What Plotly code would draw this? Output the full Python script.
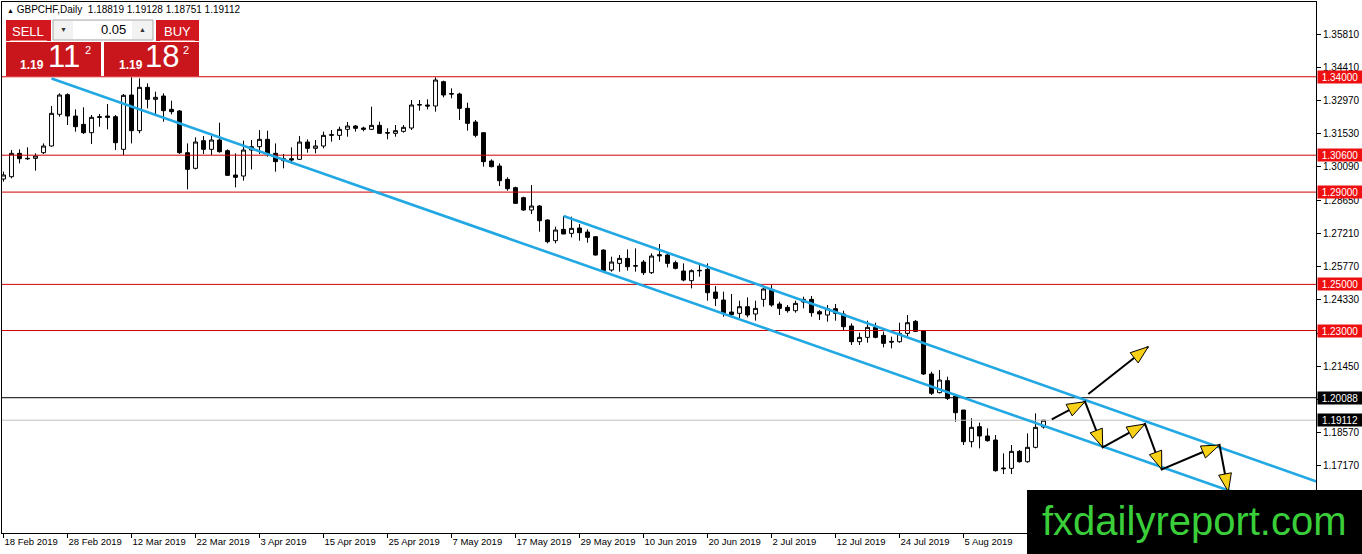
import plotly.graph_objects as go

# ---------------- data ----------------
date_labels = ["18 Feb 2019", "28 Feb 2019", "12 Mar 2019", "22 Mar 2019", "3 Apr 2019",
               "15 Apr 2019", "25 Apr 2019", "7 May 2019", "17 May 2019", "29 May 2019",
               "10 Jun 2019", "20 Jun 2019", "2 Jul 2019", "12 Jul 2019", "24 Jul 2019",
               "5 Aug 2019"]
date_bars = [0, 8, 16, 24, 32, 40, 48, 56, 64, 72, 80, 88, 96, 104, 112, 120]

opens = [1.29568, 1.29668, 1.30680, 1.30463, 1.30463, 1.30709, 1.30998, 1.32371, 1.33223, 1.32298,
         1.31937, 1.31576, 1.32269, 1.32298, 1.32269, 1.30853, 1.33209, 1.31663, 1.33541, 1.33021,
         1.33165, 1.32587, 1.32515, 1.30709, 1.30030, 1.31229, 1.30853, 1.31258, 1.30796, 1.29741,
         1.29697, 1.30824, 1.30969, 1.31287, 1.30680, 1.30362, 1.30449, 1.30420, 1.31171, 1.30897,
         1.30998, 1.31460, 1.31460, 1.31720, 1.31865, 1.31778, 1.31720, 1.31894, 1.31576, 1.31547,
         1.31634, 1.31778, 1.32775, 1.32775, 1.32732, 1.33787, 1.33267, 1.33252, 1.32631, 1.32038,
         1.31576, 1.30348, 1.30131, 1.29553, 1.29192, 1.28758, 1.28223, 1.28397, 1.27790, 1.26894,
         1.27385, 1.27212, 1.27443, 1.27270, 1.27067, 1.26489, 1.25622, 1.25911, 1.26128, 1.25810,
         1.25969, 1.25507, 1.26287, 1.26273, 1.25940, 1.25579, 1.25161, 1.25609, 1.25652, 1.24669,
         1.24322, 1.23802, 1.23744, 1.24033, 1.23716, 1.24351, 1.24785, 1.24149, 1.24005, 1.23860,
         1.24236, 1.24351, 1.23817, 1.23672, 1.23947, 1.23716, 1.23195, 1.22516, 1.22704, 1.23138,
         1.22791, 1.22531, 1.22516, 1.22877, 1.23398, 1.22994, 1.21116, 1.20306, 1.20827, 1.20162,
         1.19555, 1.18182, 1.18832, 1.18428, 1.18254, 1.17041, 1.17027, 1.17763, 1.17315, 1.17937,
         1.18819]
highs = [1.29886, 1.30824, 1.30853, 1.30940, 1.30680, 1.31113, 1.32732, 1.33281, 1.33281, 1.32587,
         1.32674, 1.32342, 1.32385, 1.32819, 1.32342, 1.33252, 1.33975, 1.33931, 1.33714, 1.33353,
         1.33281, 1.32963, 1.32558, 1.31113, 1.31374, 1.31431, 1.31431, 1.32009, 1.30853, 1.30680,
         1.31229, 1.31258, 1.31691, 1.31663, 1.31113, 1.30651, 1.30940, 1.31431, 1.31287, 1.31258,
         1.31619, 1.31691, 1.31836, 1.32038, 1.31908, 1.31836, 1.32703, 1.32053, 1.31764, 1.31908,
         1.31908, 1.32992, 1.32992, 1.33021, 1.33975, 1.33830, 1.33498, 1.33310, 1.32876, 1.32125,
         1.31576, 1.30420, 1.30246, 1.29640, 1.29235, 1.28801, 1.29307, 1.28440, 1.27819, 1.27501,
         1.27963, 1.27934, 1.27617, 1.27385, 1.27096, 1.26518, 1.26200, 1.26273, 1.26518, 1.26562,
         1.26056, 1.26345, 1.26750, 1.26345, 1.26027, 1.25911, 1.25652, 1.25912, 1.25912, 1.24929,
         1.24684, 1.24583, 1.24294, 1.24438, 1.24294, 1.24929, 1.24973, 1.24250, 1.24106, 1.24294,
         1.24467, 1.24496, 1.23889, 1.24106, 1.24149, 1.23860, 1.23311, 1.22906, 1.23427, 1.23340,
         1.22950, 1.22733, 1.23340, 1.23672, 1.23455, 1.23023, 1.21217, 1.21289, 1.21000, 1.20205,
         1.19555, 1.19194, 1.19006, 1.18760, 1.18471, 1.17676, 1.18038, 1.17821, 1.18543, 1.19410,
         1.19128]
lows = [1.29452, 1.29596, 1.30246, 1.30391, 1.29929, 1.30651, 1.30969, 1.32269, 1.31908, 1.31619,
        1.31518, 1.31085, 1.31836, 1.31720, 1.30824, 1.30608, 1.31113, 1.31547, 1.32631, 1.32298,
        1.32053, 1.32371, 1.30651, 1.29119, 1.29986, 1.30651, 1.30608, 1.30709, 1.29697, 1.29206,
        1.29495, 1.29986, 1.30651, 1.30536, 1.29886, 1.30030, 1.30218, 1.30391, 1.30709, 1.30680,
        1.30897, 1.31186, 1.31258, 1.31402, 1.31619, 1.31634, 1.31691, 1.31518, 1.31287, 1.31402,
        1.31576, 1.31691, 1.32530, 1.32587, 1.32486, 1.33108, 1.33064, 1.32125, 1.31663, 1.31374,
        1.30102, 1.30073, 1.29264, 1.29062, 1.28484, 1.28195, 1.28050, 1.27284, 1.26778, 1.26778,
        1.27183, 1.27039, 1.26894, 1.26807, 1.26244, 1.25550, 1.25550, 1.25550, 1.25594, 1.25550,
        1.25406, 1.25449, 1.25984, 1.25738, 1.25651, 1.25131, 1.24828, 1.25334, 1.24294, 1.24062,
        1.23600, 1.23571, 1.23484, 1.23571, 1.23427, 1.24033, 1.24033, 1.23672, 1.23773, 1.23773,
        1.23961, 1.23600, 1.23455, 1.23383, 1.23427, 1.23022, 1.22372, 1.22372, 1.22473, 1.22661,
        1.22271, 1.22227, 1.22473, 1.22762, 1.22935, 1.21072, 1.20205, 1.20277, 1.19988, 1.19049,
        1.18038, 1.17937, 1.17893, 1.18182, 1.16882, 1.16781, 1.16781, 1.17272, 1.17272, 1.17893,
        1.18751]
closes = [1.29741, 1.30680, 1.30449, 1.30449, 1.30564, 1.30998, 1.32414, 1.33209, 1.32298, 1.31836,
          1.31576, 1.32241, 1.32241, 1.32241, 1.31142, 1.33194, 1.31663, 1.33541, 1.33021, 1.33108,
          1.32530, 1.32486, 1.30709, 1.29986, 1.31171, 1.30853, 1.31258, 1.30752, 1.29726, 1.29640,
          1.30824, 1.30969, 1.31287, 1.30651, 1.30319, 1.30449, 1.30391, 1.31171, 1.30897, 1.30998,
          1.31460, 1.31489, 1.31720, 1.31865, 1.31764, 1.31720, 1.31894, 1.31547, 1.31561, 1.31663,
          1.31807, 1.32775, 1.32790, 1.32732, 1.33859, 1.33209, 1.33252, 1.32631, 1.31980, 1.31460,
          1.30319, 1.30102, 1.29495, 1.29148, 1.28512, 1.28223, 1.28397, 1.27761, 1.26851, 1.27356,
          1.27183, 1.27429, 1.27241, 1.27039, 1.26273, 1.25594, 1.25969, 1.26128, 1.25767, 1.25796,
          1.25507, 1.26229, 1.26244, 1.25911, 1.25695, 1.25189, 1.25594, 1.25594, 1.24640, 1.24395,
          1.23773, 1.23687, 1.24033, 1.23672, 1.23961, 1.24799, 1.24106, 1.23961, 1.23860, 1.24178,
          1.24351, 1.23773, 1.23716, 1.23947, 1.23744, 1.23167, 1.22516, 1.22704, 1.23138, 1.22704,
          1.22444, 1.22502, 1.22877, 1.23340, 1.22964, 1.21116, 1.20277, 1.20855, 1.20061, 1.19439,
          1.18182, 1.18804, 1.18428, 1.18226, 1.16925, 1.17012, 1.17763, 1.17315, 1.17937, 1.18804,
          1.19112]

price_ticks = [1.35810, 1.34410, 1.32970, 1.31530, 1.30090, 1.28650, 1.27210, 1.25770,
               1.24330, 1.22890, 1.21450, 1.20010, 1.18570, 1.17170, 1.15730]

red_levels = [1.34000, 1.30600, 1.29000, 1.25000, 1.23000]
black_level = 1.20088
bid_level = closes[-1]

# channel lines: (bar, price) endpoints
channel_lower = [(6.0, 1.33923), (154.3, 1.15924)]
channel_upper = [(70.0, 1.27963), (164.15, 1.16447)]

# forecast arrows: zigzag path and breakout arrow, (bar, price)
zigzag_bars = [131.03, 135.19, 137.40, 142.69, 144.78, 152.00, 153.10]
zigzag_prices = [1.19152, 1.19915, 1.17938, 1.18948, 1.16985, 1.18038, 1.16014]
breakout_bars = [135.6, 143.1]
breakout_prices = [1.20249, 1.22299]

# ---------------- layout geometry ----------------
W, H = 1362, 554
ML, MR, MT, MB = 2, 46, 2, 21
PW, PH = W - ML - MR, H - MT - MB
x_range = [-0.19, 164.06]
y_range = [1.14224, 1.37240]
sx = PW / (x_range[1] - x_range[0])
sy = PH / (y_range[1] - y_range[0])


def px(xp):
    return (xp - ML) / PW


def py(yp):
    return 1 - (yp - MT) / PH


FONT = "Liberation Sans, Arial, sans-serif"
bars = list(range(len(opens)))

fig = go.Figure()
fig.add_trace(go.Candlestick(
    x=bars, open=opens, high=highs, low=lows, close=closes,
    increasing=dict(fillcolor="white", line=dict(color="black", width=1)),
    decreasing=dict(fillcolor="black", line=dict(color="black", width=1)),
    whiskerwidth=0, hoverinfo="skip", showlegend=False,
))

# horizontal levels
for lv in red_levels:
    fig.add_trace(go.Scatter(x=x_range, y=[lv, lv], mode="lines",
                             line=dict(color="#D00000", width=1), hoverinfo="skip", showlegend=False))
fig.add_trace(go.Scatter(x=x_range, y=[black_level, black_level], mode="lines",
                         line=dict(color="black", width=1), hoverinfo="skip", showlegend=False))
fig.add_trace(go.Scatter(x=x_range, y=[bid_level, bid_level], mode="lines",
                         line=dict(color="#C0C0C0", width=1), hoverinfo="skip", showlegend=False))

# channel lines
for ln in (channel_lower, channel_upper):
    fig.add_trace(go.Scatter(x=[p[0] for p in ln], y=[p[1] for p in ln], mode="lines",
                             line=dict(color="#22A8E2", width=2.6), hoverinfo="skip", showlegend=False))


def head(x0, y0, x1, y1, L=18, Wd=6.5):
    dx, dy = (x1 - x0) * sx, (y1 - y0) * sy
    n = (dx * dx + dy * dy) ** 0.5
    ux, uy = dx / n, dy / n
    bx, by = x1 - L * ux / sx, y1 - L * uy / sy
    nx, ny = -uy, ux
    xs = [x1, bx + Wd * nx / sx, bx - Wd * nx / sx, x1]
    ys = [y1, by + Wd * ny / sy, by - Wd * ny / sy, y1]
    return xs, ys


def arrow_path(bx_list, by_list):
    fig.add_trace(go.Scatter(x=bx_list, y=by_list, mode="lines",
                             line=dict(color="black", width=2), hoverinfo="skip", showlegend=False))
    for i in range(1, len(bx_list)):
        hx, hy = head(bx_list[i - 1], by_list[i - 1], bx_list[i], by_list[i])
        fig.add_trace(go.Scatter(x=hx, y=hy, mode="lines", fill="toself", fillcolor="#F7D117",
                                 line=dict(color="black", width=1), hoverinfo="skip", showlegend=False))


arrow_path(zigzag_bars, zigzag_prices)
arrow_path(breakout_bars, breakout_prices)

shapes = []
annotations = []

# right-axis level labels
for lv in red_levels:
    annotations.append(dict(xref="paper", yref="y", x=1, y=lv, xanchor="left", yanchor="middle",
                            xshift=1, text=f"{lv:.5f}", showarrow=False, bgcolor="#EE1010",
                            font=dict(family=FONT, size=10, color="white"), borderpad=0,
                            width=44, height=12, align="center"))
for lv in (black_level, bid_level):
    annotations.append(dict(xref="paper", yref="y", x=1, y=lv, xanchor="left", yanchor="middle",
                            xshift=1, text=f"{lv:.5f}", showarrow=False, bgcolor="black",
                            font=dict(family=FONT, size=10, color="white"), borderpad=0,
                            width=44, height=12, align="center"))

# header
annotations.append(dict(xref="paper", yref="paper", x=px(5), y=py(9), xanchor="left", yanchor="middle",
                        showarrow=False,
                        text=("<span style='font-size:7px'>▲</span> GBPCHF,Daily  "
                              f"{opens[-1]:.5f} {highs[-1]:.5f} {lows[-1]:.5f} {closes[-1]:.5f}"),
                        font=dict(family=FONT, size=10, color="black")))


def rect(x0, y0, x1, y1, fill, line=None, lw=0):
    shapes.append(dict(type="rect", xref="paper", yref="paper", x0=px(x0), x1=px(x1),
                       y0=py(y1), y1=py(y0), fillcolor=fill, layer="above",
                       line=dict(color=line or fill, width=lw)))


def text(x, y, s, size, color="white", bold=False, anchor="center"):
    annotations.append(dict(xref="paper", yref="paper", x=px(x), y=py(y), xanchor=anchor,
                            yanchor="middle", showarrow=False,
                            text=f"<b>{s}</b>" if bold else s,
                            font=dict(family=FONT, size=size, color=color)))


# trade panel
rect(6, 20, 51, 41, "#D2181E")
rect(156, 20, 199, 41, "#D2181E")
shapes.append(dict(type="line", xref="paper", yref="paper", x0=px(10), x1=px(47), y0=py(40.5), y1=py(40.5),
                   line=dict(color="#F08080", width=1), layer="above"))
shapes.append(dict(type="line", xref="paper", yref="paper", x0=px(160), x1=px(195), y0=py(40.5), y1=py(40.5),
                   line=dict(color="#F08080", width=1), layer="above"))
rect(53, 20, 153, 40, "#F2F2F2", "#A8A8A8", 1)
rect(73, 21, 132, 39, "white")
rect(6, 42, 101, 76, "#C8161C")
rect(104, 42, 199, 76, "#C8161C")
text(28, 31, "SELL", 13)
text(177, 31, "BUY", 13)
text(63, 30, "▼", 7, color="#333333")
text(142, 30, "▲", 7, color="#333333")
text(128, 30, "0.05", 13, color="black", anchor="right")
text(32, 65, "1.19", 12, bold=True)
text(64, 57, "11", 31)
text(88, 50, "2", 11)
text(131, 65, "1.19", 12, bold=True)
text(162, 57, "18", 31)
text(186, 50, "2", 11)

# watermark
rect(1027, 490, 1362, 554, "black")
text(1194, 521, "fxdailyreport.com", 40, color="#3ACF3A")

fig.update_layout(
    width=W, height=H,
    margin=dict(l=ML, r=MR, t=MT, b=MB),
    paper_bgcolor="white", plot_bgcolor="white",
    showlegend=False, hovermode=False,
    shapes=shapes, annotations=annotations,
    xaxis=dict(range=x_range, rangeslider=dict(visible=False), showgrid=False, zeroline=False,
               tickmode="array", tickvals=date_bars, ticktext=date_labels,
               ticks="outside", ticklen=4, tickcolor="black", ticklabelposition="outside right",
               tickfont=dict(family=FONT, size=9.5, color="black"),
               showline=True, linecolor="black", linewidth=1, mirror=True),
    yaxis=dict(range=y_range, side="right", showgrid=False, zeroline=False,
               tickmode="array", tickvals=price_ticks, ticktext=[f"{v:.5f}" for v in price_ticks],
               ticks="outside", ticklen=4, tickcolor="black",
               tickfont=dict(family=FONT, size=10, color="black"),
               showline=True, linecolor="black", linewidth=1, mirror=True),
)

fig.write_html("out.html", config={"displayModeBar": False},
               post_script="document.body.style.margin='0';document.body.style.overflow='hidden';")
